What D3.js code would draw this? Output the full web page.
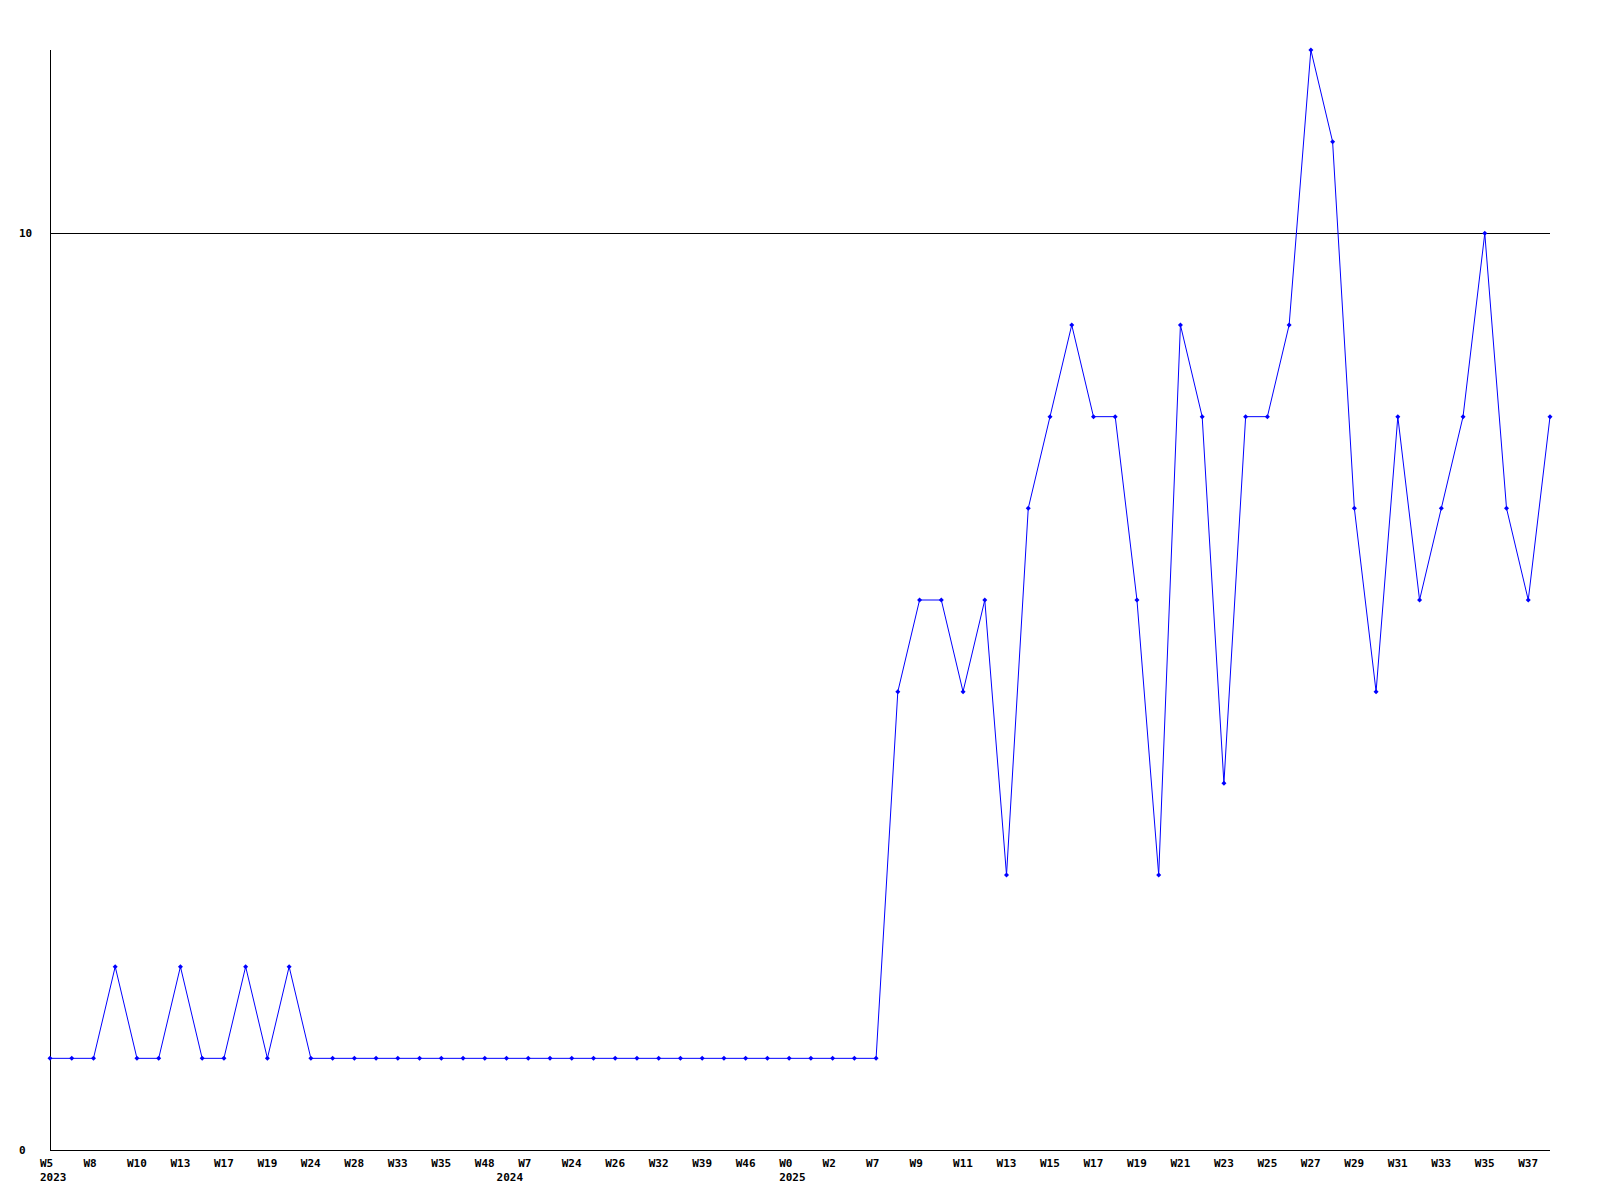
<!DOCTYPE html>
<meta charset="utf-8">
<style>

body {
  margin: 0;
  background: #fff;
}

.axis-line {
  stroke: #000;
  stroke-width: 1px;
  shape-rendering: crispEdges;
}

.series {
  fill: none;
  stroke: #0000ff;
  stroke-width: 1px;
}

.marker {
  fill: #0000ff;
}

text {
  font-family: "DejaVu Sans Mono", monospace;
  font-weight: bold;
  font-size: 11px;
  fill: #000;
}

</style>
<body>
<script src="https://d3js.org/d3.v7.min.js"></script>
<script>

// weekly counts, one per point
var values = [1, 1, 1, 2, 1, 1, 2, 1, 1, 2, 1, 2, 1, 1, 1, 1, 1, 1, 1, 1,
              1, 1, 1, 1, 1, 1, 1, 1, 1, 1, 1, 1, 1, 1, 1, 1, 1, 1, 1, 5,
              6, 6, 5, 6, 3, 7, 8, 9, 8, 8, 6, 3, 9, 8, 4, 8, 8, 9, 12, 11,
              7, 5, 8, 6, 7, 8, 10, 7, 6, 8];

// labels shown under every second point
var weekLabels = ["W5", "W8", "W10", "W13", "W17", "W19", "W24", "W28", "W33", "W35",
                  "W48", "W7", "W24", "W26", "W32", "W39", "W46", "W0", "W2", "W7",
                  "W9", "W11", "W13", "W15", "W17", "W19", "W21", "W23", "W25", "W27",
                  "W29", "W31", "W33", "W35", "W37"];

var yearLabels = ["2023", "2024", "2025"];
var yearStart = [0, 21, 34];

var yTicks = [0, 10];
var yMax = 12;

var width = 1600,
    height = 1200;

var margin = {top: 50, right: 50, bottom: 50, left: 50};

var x = d3.scaleLinear()
    .domain([0, values.length - 1])
    .range([margin.left, width - margin.right]);

var y = d3.scaleLinear()
    .domain([0, yMax])
    .range([height - margin.bottom, margin.top]);

var svg = d3.select("body").append("svg")
    .attr("width", width)
    .attr("height", height);

// reference line at 10
svg.selectAll(".grid")
    .data(yTicks.filter(function(d) { return d > 0; }))
  .enter().append("line")
    .attr("class", "axis-line")
    .attr("x1", x.range()[0])
    .attr("x2", x.range()[1])
    .attr("y1", function(d) { return Math.round(y(d)) + 0.5; })
    .attr("y2", function(d) { return Math.round(y(d)) + 0.5; });

// axes
svg.append("line")
    .attr("class", "axis-line")
    .attr("x1", x.range()[0] + 0.5)
    .attr("x2", x.range()[0] + 0.5)
    .attr("y1", y.range()[1])
    .attr("y2", y.range()[0]);

svg.append("line")
    .attr("class", "axis-line")
    .attr("x1", x.range()[0])
    .attr("x2", x.range()[1])
    .attr("y1", y.range()[0] + 0.5)
    .attr("y2", y.range()[0] + 0.5);

svg.selectAll(".ytick")
    .data(yTicks)
  .enter().append("text")
    .attr("class", "ytick")
    .attr("x", 19)
    .attr("y", function(d) { return y(d); })
    .attr("dy", "0.35em")
    .text(function(d) { return d; });

svg.selectAll(".xtick")
    .data(weekLabels)
  .enter().append("text")
    .attr("class", "xtick")
    .attr("x", function(d, i) { return x(i * 2) - 10; })
    .attr("y", height - margin.bottom + 17)
    .text(function(d) { return d; });

svg.selectAll(".year")
    .data(yearLabels)
  .enter().append("text")
    .attr("class", "year")
    .attr("x", function(d, i) { return x(yearStart[i]) - 10; })
    .attr("y", height - margin.bottom + 31)
    .text(function(d) { return d; });

var line = d3.line()
    .x(function(d, i) { return x(i); })
    .y(function(d) { return y(d); });

svg.append("path")
    .datum(values)
    .attr("class", "series")
    .attr("d", line);

svg.selectAll(".marker")
    .data(values)
  .enter().append("path")
    .attr("class", "marker")
    .attr("transform", function(d, i) { return "translate(" + x(i) + "," + y(d) + ")"; })
    .attr("d", "M0,-2.5L2.5,0L0,2.5L-2.5,0Z");

</script>
